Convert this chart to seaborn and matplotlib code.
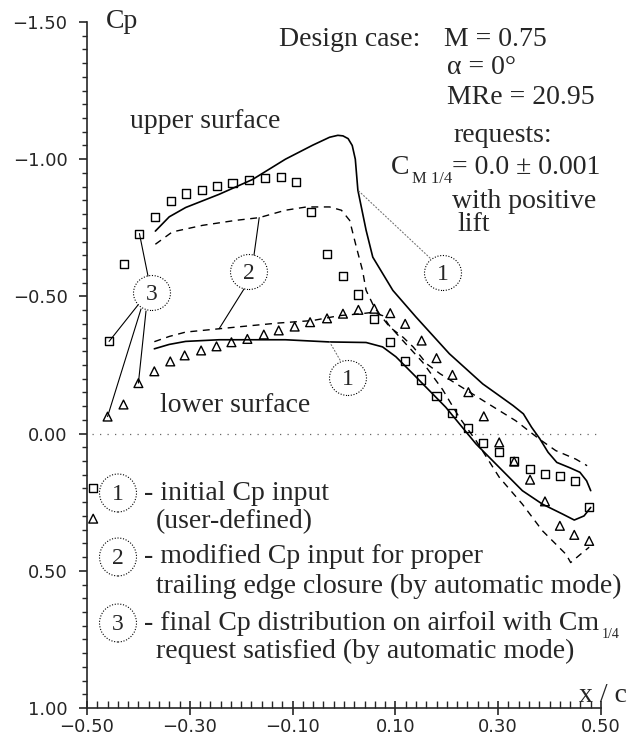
import numpy as np
import pandas as pd
import matplotlib
matplotlib.use("Agg")
import matplotlib.pyplot as plt
import seaborn as sns
from matplotlib.patches import Ellipse
from matplotlib.ticker import MultipleLocator, FixedLocator, FixedFormatter

# ---------------- data ----------------
# final Cp distribution (3): upper surface (squares)
upper_sq_x = [-0.488, -0.457, -0.428, -0.398, -0.368, -0.337, -0.308, -0.277, -0.247, -0.217,
              -0.185, -0.154, -0.123, -0.094, -0.064, -0.033, -0.002, 0.028, 0.059, 0.090,
              0.119, 0.150, 0.180, 0.210, 0.241, 0.271, 0.301, 0.331, 0.362, 0.391,
              0.420, 0.449, 0.477]
upper_sq_cp = [0.197, -0.336, -0.617, -0.729, -0.788, -0.847, -0.875, -0.888, -0.901, -0.914,
               -0.923, -0.933, -0.935, -0.918, -0.807, -0.656, -0.573, -0.507, -0.418, -0.333,
               -0.263, -0.197, -0.136, -0.074, -0.019, 0.033, 0.068, 0.099, 0.129, 0.147,
               0.153, 0.172, 0.266]
# final Cp distribution (3): lower surface (triangles)
lower_tri_x = [-0.488, -0.460, -0.429, -0.400, -0.369, -0.338, -0.310, -0.278, -0.248, -0.219,
               -0.188, -0.156, -0.127, -0.096, -0.066, -0.033, -0.002, 0.028, 0.059, 0.090,
               0.119, 0.151, 0.180, 0.211, 0.242, 0.272, 0.302, 0.331, 0.362, 0.391,
               0.420, 0.448, 0.477]
lower_tri_cp = [0.310, -0.062, -0.106, -0.184, -0.227, -0.263, -0.285, -0.303, -0.318, -0.333,
                -0.345, -0.361, -0.376, -0.390, -0.406, -0.420, -0.437, -0.451, -0.455, -0.439,
                -0.400, -0.339, -0.275, -0.214, -0.151, -0.063, 0.032, 0.102, 0.168, 0.247,
                0.336, 0.369, 0.391]
# initial Cp input (1): solid lines
init_up_x = [-0.367, -0.340, -0.308, -0.243, -0.178, -0.114, -0.061, -0.028, -0.012, -0.002,
             0.008, 0.016, 0.022, 0.027, 0.043, 0.056, 0.095, 0.140, 0.205, 0.270,
             0.297, 0.329, 0.349, 0.365, 0.381, 0.397, 0.414, 0.440, 0.459, 0.472, 0.480]
init_up_cp = [-0.738, -0.790, -0.824, -0.872, -0.926, -1.000, -1.051, -1.080, -1.087, -1.085,
              -1.075, -1.050, -1.000, -0.887, -0.741, -0.643, -0.522, -0.425, -0.291, -0.181,
              -0.145, -0.102, -0.072, -0.023, 0.019, 0.068, 0.105, 0.125, 0.141, 0.172, 0.208]
init_lo_x = [-0.369, -0.340, -0.308, -0.243, -0.114, -0.028, 0.043, 0.075, 0.101, 0.134,
             0.198, 0.257, 0.302, 0.347, 0.386, 0.425, 0.448, 0.467, 0.480]
init_lo_cp = [-0.309, -0.325, -0.336, -0.342, -0.342, -0.334, -0.332, -0.316, -0.280, -0.218,
              -0.096, 0.038, 0.123, 0.208, 0.257, 0.293, 0.315, 0.300, 0.269]
# modified Cp input (2): dashed lines
mod_up_x = [-0.367, -0.334, -0.275, -0.211, -0.165, -0.114, -0.073, -0.028, -0.005, 0.011,
            0.024, 0.036, 0.043, 0.059, 0.089, 0.115, 0.135, 0.161, 0.187, 0.219,
            0.271, 0.302, 0.334, 0.380, 0.412, 0.451, 0.473]
mod_up_cp = [-0.690, -0.735, -0.759, -0.777, -0.787, -0.814, -0.826, -0.826, -0.814, -0.777,
             -0.680, -0.595, -0.522, -0.460, -0.388, -0.351, -0.315, -0.254, -0.218, -0.181,
             -0.120, -0.084, -0.047, 0.020, 0.062, 0.093, 0.117]
mod_lo_x = [-0.369, -0.340, -0.308, -0.243, -0.178, -0.127, -0.061, -0.009, 0.030, 0.056,
            0.075, 0.088, 0.114, 0.153, 0.192, 0.224, 0.257, 0.302, 0.347, 0.386,
            0.432, 0.441, 0.460, 0.477]
mod_lo_cp = [-0.335, -0.354, -0.370, -0.382, -0.394, -0.403, -0.412, -0.430, -0.436, -0.442,
             -0.430, -0.394, -0.340, -0.260, -0.160, -0.060, 0.026, 0.159, 0.257, 0.354,
             0.440, 0.470, 0.440, 0.414]

xtick_vals = [-0.50, -0.30, -0.10, 0.10, 0.30, 0.50]
xtick_labels = ["\u22120.50", "\u22120.30", "\u22120.10", "0.10", "0.30", "0.50"]
ytick_vals = [-1.50, -1.00, -0.50, 0.00, 0.50, 1.00]
ytick_labels = ["\u22121.50", "\u22121.00", "\u22120.50", "0.00", "0.50", "1.00"]

# ---------------- figure ----------------
sns.set_style("ticks")
plt.rcParams["font.family"] = ["DejaVu Sans"]
SERIF = ["Liberation Serif", "DejaVu Serif"]

W, H = 631, 740
fig = plt.figure(figsize=(W / 100, H / 100), dpi=100)
ax = fig.add_axes([87 / W, 1 - 708 / H, (601 - 87) / W, (708 - 22) / H])


def P(px, py):
    return (px / W, 1 - py / H)


lw = 1.2
sns.lineplot(x=init_up_x, y=init_up_cp, sort=False, estimator=None, color="black", lw=lw, ax=ax)
sns.lineplot(x=init_lo_x, y=init_lo_cp, sort=False, estimator=None, color="black", lw=lw, ax=ax)
sns.lineplot(x=mod_up_x, y=mod_up_cp, sort=False, estimator=None, color="black", lw=1.0,
             linestyle=(0, (5, 4)), ax=ax)
sns.lineplot(x=mod_lo_x, y=mod_lo_cp, sort=False, estimator=None, color="black", lw=1.0,
             linestyle=(0, (5, 4)), ax=ax)

sns.scatterplot(x=upper_sq_x, y=upper_sq_cp, marker="s", s=34, color="black", ax=ax, zorder=3)
c = ax.collections[-1]
c.set_facecolor("none"); c.set_edgecolor("black"); c.set_linewidth(1.0)
sns.scatterplot(x=lower_tri_x, y=lower_tri_cp, marker="^", s=40, color="black", ax=ax, zorder=3)
c = ax.collections[-1]
c.set_facecolor("none"); c.set_edgecolor("black"); c.set_linewidth(1.0)

ax.axhline(0, xmin=0.01, xmax=0.99, color="0.4", lw=0.9, ls=(0, (1, 5)), zorder=1)

ax.set_xlim(-0.5, 0.5)
ax.set_ylim(1.0, -1.5)
ax.set_xlabel("")
ax.set_ylabel("")
sns.despine(ax=ax)
for s in ("left", "bottom"):
    ax.spines[s].set_linewidth(1.2)

ax.xaxis.set_major_locator(FixedLocator(xtick_vals))
ax.xaxis.set_major_formatter(FixedFormatter(xtick_labels))
ax.xaxis.set_minor_locator(MultipleLocator(0.02))
ax.yaxis.set_major_locator(FixedLocator(ytick_vals))
ax.yaxis.set_major_formatter(FixedFormatter(ytick_labels))
ax.yaxis.set_minor_locator(MultipleLocator(0.05))
ax.tick_params(axis="y", which="major", direction="out", length=6, width=1.2, labelsize=13, pad=8)
ax.tick_params(axis="y", which="minor", direction="out", length=3.5, width=1.0)
ax.tick_params(axis="x", which="major", direction="inout", length=10, width=1.2, labelsize=13, pad=2)
ax.tick_params(axis="x", which="minor", direction="in", length=5, width=1.0)

# ---------------- texts ----------------
FS = 20


def ftext(px, py, s, size=FS, ha="left", va="baseline"):
    return fig.text(px / W, 1 - py / H, s, fontsize=size, ha=ha, va=va, family=SERIF)


renderer = fig.canvas.get_renderer()


def after(t, dx, py, s, size=FS):
    bb = t.get_window_extent(renderer)
    return fig.text((bb.x1 + dx) / W, 1 - py / H, s, fontsize=size, ha="left",
                    va="baseline", family=SERIF)


ftext(106, 28, "Cp")
ftext(420, 46, "Design case:", ha="right")
ftext(444, 46, "M = 0.75")
ftext(447, 74, "\u03b1 = 0\u00b0")
ftext(447, 104, "MRe = 20.95")
ftext(453, 142, "requests:")
tC = ftext(391, 174, "C")
tM = after(tC, 2, 183, "M 1/4", size=12)
after(tM, 0, 174, "= 0.0 \u00b1 0.001")
ftext(452, 208, "with positive")
ftext(457, 231, "lift")
ftext(130, 128, "upper surface")
ftext(160, 412, "lower surface")
ftext(627, 702, "x / c", ha="right")

ftext(144, 500, "- initial Cp input")
ftext(156, 528, "(user-defined)")
ftext(144, 563, "- modified Cp input for proper")
ftext(156, 593, "trailing edge closure (by automatic mode)")
tF = ftext(144, 630, "- final Cp distribution on airfoil with Cm")
after(tF, 3, 638, "1/4", size=10)
ftext(156, 658, "request satisfied (by automatic mode)")


def circ(cx, cy, label, w=37, h=35):
    e = Ellipse(P(cx, cy), w / W, h / H, transform=fig.transFigure, fill=False,
                ec="black", lw=0.8, ls=(0, (1, 1.5)))
    fig.add_artist(e)
    ftext(cx, cy + 7, label, size=17, ha="center")


circ(443, 273, "1")
circ(348, 378, "1")
circ(249, 272, "2")
circ(152, 293, "3")
circ(118, 493, "1", h=38)
circ(118, 557, "2", h=38)
circ(118, 623, "3", h=38)


def leader(xy, pxy, color="black", ls="-", lw=0.8):
    ax.annotate("", xy=xy, xycoords="data", xytext=P(*pxy), textcoords="figure fraction",
                arrowprops=dict(arrowstyle="-", color=color, lw=lw, ls=ls,
                                shrinkA=0, shrinkB=0))


leader((init_up_x[13], init_up_cp[13]), (430, 258), color="0.45", ls=(0, (1, 2)))
leader((init_lo_x[5], init_lo_cp[5]), (340, 360), color="0.45", ls=(0, (1, 2)))
leader((mod_up_x[4], mod_up_cp[4]), (254, 255))
leader((mod_lo_x[3], mod_lo_cp[3]), (244, 289))
leader((upper_sq_x[3], upper_sq_cp[3]), (148, 276))
leader((upper_sq_x[1], upper_sq_cp[1]), (138, 305))
leader((lower_tri_x[1], lower_tri_cp[1]), (141, 309))
leader((lower_tri_x[3], lower_tri_cp[3]), (146, 311))

fig.savefig("out.png", dpi=100)
